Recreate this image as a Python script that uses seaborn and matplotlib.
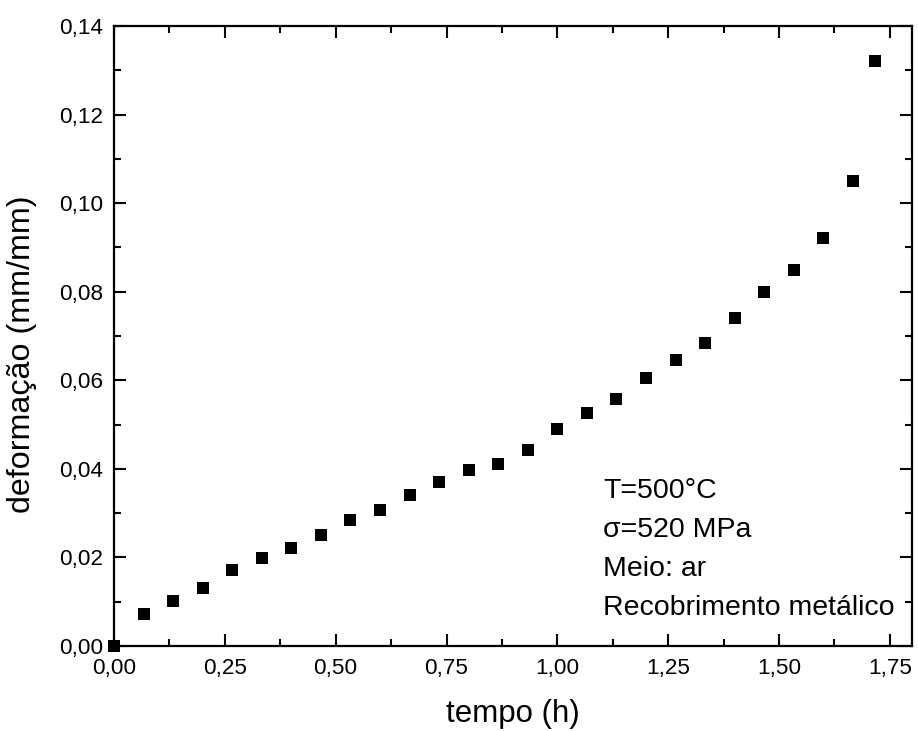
import numpy as np
import pandas as pd
import seaborn as sns
import matplotlib.pyplot as plt
from matplotlib.ticker import MultipleLocator, FuncFormatter

# tempo (h) e deformação (mm/mm)
tempo = [0.0, 0.0667, 0.1333, 0.2, 0.2667, 0.3333, 0.4, 0.4667, 0.5333, 0.6,
         0.6667, 0.7333, 0.8, 0.8667, 0.9333, 1.0, 1.0667, 1.1333, 1.2, 1.2667,
         1.3333, 1.4, 1.4667, 1.5333, 1.6, 1.6667, 1.7167]
deformacao = [0.0, 0.0072, 0.0101, 0.0130, 0.0172, 0.0199, 0.0221, 0.0251, 0.0284, 0.0307,
              0.0340, 0.0371, 0.0398, 0.0411, 0.0443, 0.0489, 0.0525, 0.0557, 0.0606, 0.0645,
              0.0684, 0.0741, 0.0800, 0.0848, 0.0922, 0.1050, 0.1320]
info = ["T=500°C", "σ=520 MPa", "Meio: ar", "Recobrimento metálico"]

sns.set_style("ticks")
plt.rcParams['font.family'] = ['Liberation Sans', 'DejaVu Sans']
plt.rcParams['text.color'] = 'black'
plt.rcParams['axes.labelcolor'] = 'black'

df = pd.DataFrame({"tempo": tempo, "deformacao": deformacao})

fig = plt.figure(figsize=(9.18, 7.31), dpi=100)
ax = fig.add_axes([0.1242, 0.1163, 0.8693, 0.8481])
sns.scatterplot(data=df, x="tempo", y="deformacao", marker="s", s=72,
                color="black", edgecolor="black", linewidth=0, ax=ax, clip_on=False, zorder=5)

ax.set_xlim(0, 1.8)
ax.set_ylim(0, 0.14)
ax.xaxis.set_major_locator(MultipleLocator(0.25))
ax.xaxis.set_minor_locator(MultipleLocator(0.125))
ax.yaxis.set_major_locator(MultipleLocator(0.02))
ax.yaxis.set_minor_locator(MultipleLocator(0.01))
ax.xaxis.set_major_formatter(FuncFormatter(lambda v, p: f"{v:.2f}".replace(".", ",")))
ax.yaxis.set_major_formatter(FuncFormatter(lambda v, p: f"{v:.2f}".replace(".", ",")))

ax.tick_params(which="both", direction="in", top=True, right=True, width=1.5, colors="black",
               labelsize=16.2)
ax.tick_params(axis="x", pad=9)
ax.tick_params(axis="y", pad=8)
ax.tick_params(which="major", length=8.5)
ax.tick_params(which="minor", length=5)
for sp in ax.spines.values():
    sp.set_linewidth(1.6)
    sp.set_color("black")

ax.set_xlabel("tempo (h)", fontsize=22.5, labelpad=14)
ax.set_ylabel("deformação (mm/mm)", fontsize=23.2)
ax.yaxis.set_label_coords(-0.0965, 0.47)

for i, t in enumerate(info):
    ax.text(0.6128, 0.2387 - i * 0.0629, t, transform=ax.transAxes, fontsize=20.5,
            va="baseline", ha="left")

fig.savefig("out.png", dpi=100)
